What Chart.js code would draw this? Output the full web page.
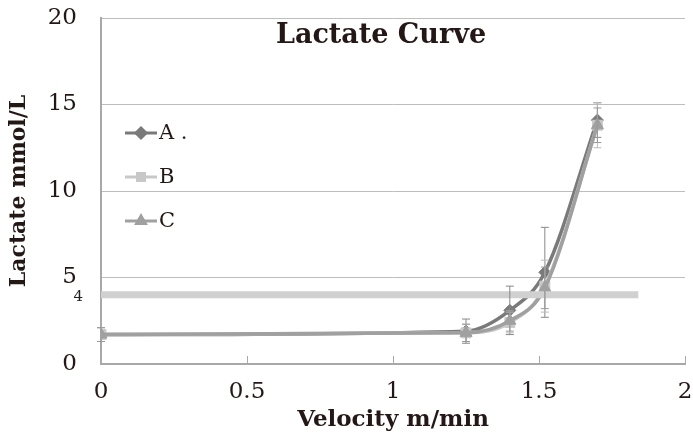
<!DOCTYPE html>
<html>
<head>
<meta charset="utf-8">
<script src="https://cdn.jsdelivr.net/npm/chart.js@4"></script>
<style>
  body { margin: 0; background: #fff; }
  #wrap { width: 693px; height: 436px; }
</style>
</head>
<body>
<div id="wrap"><canvas id="lactate"></canvas></div>
<script>
const velocity = [0, 1.25, 1.4, 1.52, 1.7];
const seriesA = [1.7, 1.9, 3.1, 5.3, 14.1];
const seriesB = [1.7, 1.8, 2.4, 4.5, 13.8];
const seriesC = [1.7, 1.8, 2.5, 4.4, 13.8];
const errA = [0.4, 0.7, 1.4, 2.6, 1.0];
const errB = [0.4, 0.5, 0.6, 1.5, 1.3];
const errC = [0.4, 0.5, 0.6, 1.2, 1.0];
const thresholdX = [0, 1.84];
const thresholdY = 4;
const yTicks = [0, 5, 10, 15, 20];
const xTicks = [0, 0.5, 1, 1.5, 2];

const serif = "'DejaVu Serif', 'Liberation Serif', serif";

function toPoints(ys) {
    return velocity.map((v, i) => ({ x: v, y: ys[i] }));
}

const errorBars = {
    id: 'errorBars',
    afterDatasetsDraw(chart) {
        const { ctx, scales: { x, y } } = chart;
        const sets = [[errA, seriesA, '#888'], [errB, seriesB, '#bbb'], [errC, seriesC, '#999']];
        ctx.save();
        ctx.lineWidth = 1;
        sets.forEach(([err, vals, col]) => {
            ctx.strokeStyle = col;
            velocity.forEach((v, i) => {
                const px = x.getPixelForValue(v);
                const top = y.getPixelForValue(vals[i] + err[i]);
                const bot = y.getPixelForValue(vals[i] - err[i]);
                ctx.beginPath();
                ctx.moveTo(px, top); ctx.lineTo(px, bot);
                ctx.moveTo(px - 4, top); ctx.lineTo(px + 4, top);
                ctx.moveTo(px - 4, bot); ctx.lineTo(px + 4, bot);
                ctx.stroke();
            });
        });
        ctx.restore();
    },
    afterDraw(chart) {
        const { ctx, chartArea, scales: { x, y } } = chart;
        ctx.save();
        // tick marks pointing inward
        ctx.strokeStyle = '#aaa';
        ctx.lineWidth = 1;
        xTicks.forEach(t => {
            const px = Math.round(x.getPixelForValue(t)) + 0.5;
            ctx.beginPath();
            ctx.moveTo(px, chartArea.bottom);
            ctx.lineTo(px, chartArea.bottom - 8);
            ctx.stroke();
        });
        // small "4" label beside the threshold line
        ctx.fillStyle = '#222';
        ctx.font = '15px ' + serif;
        ctx.textAlign = 'right';
        ctx.textBaseline = 'middle';
        ctx.fillText('4', chartArea.left - 18, y.getPixelForValue(thresholdY) + 2);
        // title inside plot area
        ctx.font = 'bold 27px ' + serif;
        ctx.textAlign = 'center';
        ctx.fillStyle = '#231815';
        ctx.fillText('Lactate Curve', 381, 36);
        // legend inside plot area
        const items = [['A .', '#7a7a7a', 'rectRot'], ['B', '#c8c8c8', 'rect'], ['C', '#a0a0a0', 'triangle']];
        items.forEach(([label, col, shape], i) => {
            const ly = 133 + i * 44;
            ctx.strokeStyle = col;
            ctx.lineWidth = 3;
            ctx.beginPath();
            ctx.moveTo(125, ly); ctx.lineTo(157, ly);
            ctx.stroke();
            ctx.fillStyle = col;
            Chart.helpers.drawPoint(ctx, { pointStyle: shape, radius: 5, borderWidth: 1 }, 141, ly);
            ctx.fill();
            ctx.fillStyle = '#231815';
            ctx.font = '21px ' + serif;
            ctx.textAlign = 'left';
            ctx.fillText(label, 159, ly + 1);
        });
        ctx.restore();
    }
};

function lineSet(label, ys, color, shape, radius) {
    return {
        label: label,
        data: toPoints(ys),
        showLine: true,
        borderColor: color,
        backgroundColor: color,
        borderWidth: 3.5,
        pointStyle: shape,
        pointRadius: radius,
        pointBorderWidth: 1,
        cubicInterpolationMode: 'monotone',
        tension: 0.4
    };
}

new Chart(document.getElementById('lactate'), {
    type: 'scatter',
    data: {
        datasets: [
            {
                label: 'threshold',
                data: thresholdX.map(v => ({ x: v, y: thresholdY })),
                showLine: true,
                borderColor: '#d0d0d0',
                borderWidth: 7,
                pointRadius: 0
            },
            lineSet('C', seriesC, '#a0a0a0', 'triangle', 7),
            lineSet('B', seriesB, '#c8c8c8', 'rect', 7),
            lineSet('A .', seriesA, '#7a7a7a', 'rectRot', 6)
        ]
    },
    options: {
        responsive: true,
        maintainAspectRatio: false,
        animation: false,
        layout: { padding: { top: 18, right: 8, left: 0, bottom: 0 } },
        plugins: {
            legend: { display: false },
            tooltip: { enabled: false }
        },
        scales: {
            x: {
                type: 'linear',
                min: 0,
                max: 2,
                afterBuildTicks: s => { s.ticks = xTicks.map(v => ({ value: v })); },
                afterFit: s => { s.height = 72; s.paddingLeft = 0; s.paddingRight = 0; },
                grid: { display: false },
                border: { color: '#a8a8a8', width: 2 },
                ticks: {
                    color: '#231815',
                    font: { family: serif, size: 23 },
                    padding: 6,
                    maxRotation: 0,
                    callback: v => String(v)
                },
                title: {
                    display: true,
                    text: 'Velocity m/min',
                    color: '#231815',
                    font: { family: serif, size: 23, weight: 'bold' },
                    padding: { top: 0, bottom: 2 }
                }
            },
            y: {
                min: 0,
                max: 20,
                afterBuildTicks: s => { s.ticks = yTicks.map(v => ({ value: v })); },
                afterFit: s => { s.width = 101; s.paddingTop = 0; s.paddingBottom = 0; },
                grid: { color: '#bdbdbd', lineWidth: 1, drawTicks: false },
                border: { color: '#a8a8a8', width: 2 },
                ticks: {
                    color: '#231815',
                    font: { family: serif, size: 23 },
                    padding: 24,
                    callback: v => String(v)
                },
                title: {
                    display: true,
                    text: 'Lactate mmol/L',
                    color: '#231815',
                    font: { family: serif, size: 22, weight: 'bold' },
                    padding: { top: 6, bottom: 4 }
                }
            }
        }
    },
    plugins: [errorBars]
});
</script>
</body>
</html>
